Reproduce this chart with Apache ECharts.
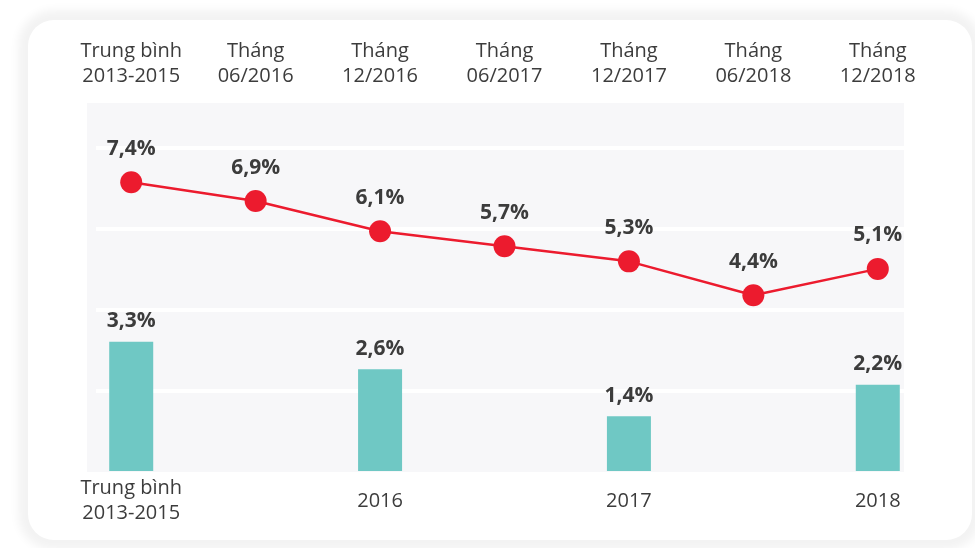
<!DOCTYPE html>
<html>
<head>
<meta charset="utf-8">
<script src="https://cdn.jsdelivr.net/npm/echarts@6/dist/echarts.min.js"></script>
<style>
  html, body { margin: 0; padding: 0; background: #ffffff; }
  #card { position: absolute; left: 28px; top: 20px; width: 944px; height: 520px;
          background: #ffffff; border-radius: 26px;
          box-shadow: 0 0 10px 10px #f3f3f3; }
  #chart { position: absolute; left: 0; top: 0; width: 975px; height: 548px; }
</style>
</head>
<body>
<div id="card"></div>
<div id="chart"></div>
<script>
// ---- data ----
const topLabels = ['Trung bình\n2013-2015', 'Tháng\n06/2016', 'Tháng\n12/2016', 'Tháng\n06/2017', 'Tháng\n12/2017', 'Tháng\n06/2018', 'Tháng\n12/2018'];
const bottomLabels = ['Trung bình\n2013-2015', '', '2016', '', '2017', '', '2018'];
const lineValues = [7.4, 6.9, 6.1, 5.7, 5.3, 4.4, 5.1];
const barValues = [3.3, '-', 2.6, '-', 1.4, '-', 2.2];
const gridTicks = [0, 1, 2, 3, 4, 5];

const fmt = p => String(p.value).replace('.', ',') + '%';
const textColor = '#3c3c3c';
const font = '"Open Sans", "Noto Sans", sans-serif';

const chart = echarts.init(document.getElementById('chart'), null, { renderer: 'canvas' });
chart.setOption({
  backgroundColor: 'transparent',
  animation: false,
  grid: [
    { left: 69, right: 35, top: 103, bottom: 77, show: false },
    { left: 87, right: 71, top: 103, bottom: 76, show: true, backgroundColor: '#f7f7f9', borderWidth: 0, z: -1 },
    { left: 96, right: 71, top: 67.25, bottom: 77, show: false }
  ],
  xAxis: [
    { type: 'category', gridIndex: 0, position: 'top', data: topLabels,
      axisLine: { show: false }, axisTick: { show: false }, splitLine: { show: false },
      axisLabel: { margin: 14, color: textColor, fontSize: 20, lineHeight: 25, fontFamily: font, interval: 0 } },
    { type: 'category', gridIndex: 0, position: 'bottom', data: bottomLabels,
      axisLine: { show: false }, axisTick: { show: false }, splitLine: { show: false },
      axisLabel: { margin: 30, verticalAlign: 'middle', color: textColor, fontSize: 20, lineHeight: 25, fontFamily: font, interval: 0 } },
    { type: 'category', gridIndex: 1, show: false, data: topLabels },
    { type: 'value', gridIndex: 2, show: false }
  ],
  yAxis: [
    { type: 'value', gridIndex: 0, min: 0, max: 9.4, show: false },
    { type: 'value', gridIndex: 0, min: -0.26, max: 9.5, show: false },
    { type: 'value', gridIndex: 1, show: false },
    { type: 'value', gridIndex: 2, min: gridTicks[0], max: gridTicks[gridTicks.length - 1], interval: 1,
      axisLine: { show: false }, axisTick: { show: false }, axisLabel: { show: false },
      splitLine: { show: true, lineStyle: { width: 4, color: ['transparent', '#ffffff', '#ffffff', '#ffffff', '#ffffff', 'transparent'] } } }
  ],
  series: [
    { type: 'bar', xAxisIndex: 0, yAxisIndex: 0, data: barValues, barWidth: 44,
      itemStyle: { color: '#6fc8c4' },
      label: { show: true, position: 'top', distance: 10, formatter: fmt,
               color: textColor, fontSize: 21, fontWeight: 'bold', fontFamily: font } },
    { type: 'line', xAxisIndex: 0, yAxisIndex: 1, data: lineValues,
      symbol: 'circle', symbolSize: 22,
      lineStyle: { color: '#ec1b2e', width: 2.5 },
      itemStyle: { color: '#ec1b2e' },
      label: { show: true, position: 'top', distance: 12, formatter: fmt,
               color: textColor, fontSize: 21, fontWeight: 'bold', fontFamily: font } }
  ]
});
</script>
</body>
</html>
